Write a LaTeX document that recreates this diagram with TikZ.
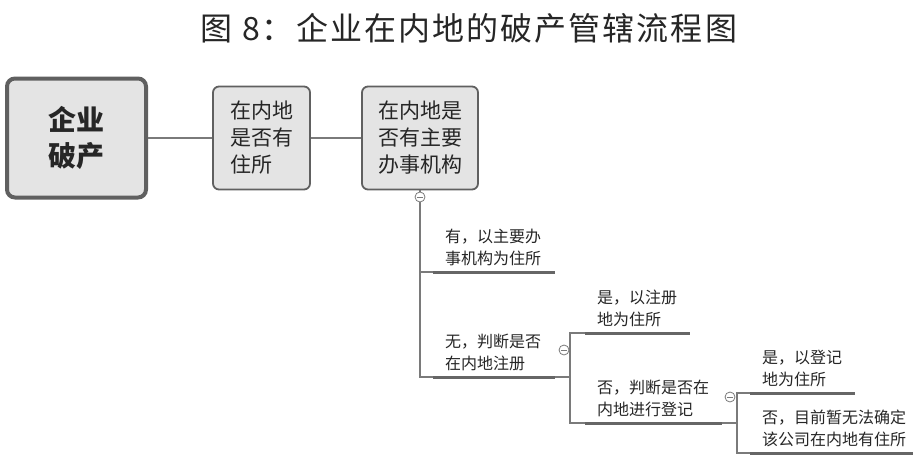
\documentclass[tikz,border=0pt]{standalone}
\usepackage{fontspec}
\setmainfont{Noto Sans CJK SC}
\newfontfamily\titlefont{Noto Sans CJK SC}[LetterSpace=6.5]
\usepackage[dvipsnames]{xcolor}
\usepackage{tikz}
\definecolor{boxfill}{HTML}{E4E4E4}
\definecolor{boxline}{HTML}{606060}
\definecolor{linkgray}{HTML}{7A7A7A}
\definecolor{bargray}{HTML}{666666}
\definecolor{inkgray}{HTML}{262626}

\begin{document}
\begin{tikzpicture}[x=1pt, y=-1pt,
    root/.style={draw=boxline, line width=4pt, fill=boxfill, rounded corners=8pt,
      minimum width=139pt, minimum height=119pt, inner sep=0pt, align=center,
      text=inkgray, font=\fontsize{28}{36}\selectfont\bfseries},
    topic/.style={draw=boxline, line width=1.8pt, fill=boxfill, rounded corners=6pt,
      minimum height=103pt, inner sep=0pt, align=left,
      text=inkgray, font=\fontsize{21}{27}\selectfont},
    leaf/.style={text width=#1, inner xsep=12pt, inner ysep=6pt, align=left,
      text=inkgray, font=\fontsize{16}{22}\selectfont},
    link/.style={draw=linkgray, line width=1.5pt},
    bar/.style={draw=bargray, line width=3pt},
    fold/.style={circle, draw=linkgray, fill=white, line width=0.8pt, minimum size=10pt, inner sep=0pt,
      path picture={\draw[linkgray, line width=0.8pt]
        ([xshift=2.4pt]path picture bounding box.west) -- ([xshift=-2.4pt]path picture bounding box.east);}}]
    \fill[white] (0,0) rectangle (920,460);
    \useasboundingbox (0,0) rectangle (920,460);

    \node[text=inkgray, font=\titlefont\fontsize{32}{38}\selectfont] at (469,28) (title) {图 8：企业在内地的破产管辖流程图};

    \node[root] at (76.5,138) (qy) {企业\\破产};
    \node[topic, minimum width=97pt] at (261.5,138) (zs) {在内地\\是否有\\住所};
    \node[topic, minimum width=116pt] at (420,138) (bs) {在内地是\\否有主要\\办事机构};

    \node[fold] at (420,197) (f1) {};
    \node[fold] at (564,350) (f2) {};
    \node[fold] at (730,397) (f3) {};
    \coordinate (j2) at (570,377);
    \coordinate (j3) at (737,423);

    \node[leaf=98pt, anchor=south west] at (433,272) (you) {有，以主要办\\事机构为住所};
    \node[leaf=98pt, anchor=south west] at (433,377) (wu) {无，判断是否\\在内地注册};
    \node[leaf=81pt, anchor=south west] at (585,333) (zc) {是，以注册\\地为住所};
    \node[leaf=113pt, anchor=south west] at (585,423) (dj) {否，判断是否在\\内地进行登记};
    \node[leaf=81pt, anchor=south west] at (750,393) (djy) {是，以登记\\地为住所};
    \node[leaf=139pt, anchor=south west] at (750,453) (djn) {否，目前暂无法确定\\该公司在内地有住所};

    \draw[link] (qy) -- (zs) -- (bs);
    \draw[link] (bs) -- (f1);
    \draw[link] (f1) |- (you.south west);
    \draw[link] (f1) |- (wu.south west);
    \draw[link] (wu.south east) -- (j2);
    \draw[link] (j2) |- (zc.south west);
    \draw[link] (j2) |- (dj.south west);
    \draw[link] (dj.south east) -- (j3);
    \draw[link] (j3) |- (djy.south west);
    \draw[link] (j3) |- (djn.south west);

    \foreach \n in {you, wu, zc, dj, djy, djn}
      \draw[bar] (\n.south west) -- (\n.south east);
\end{tikzpicture}
\end{document}
